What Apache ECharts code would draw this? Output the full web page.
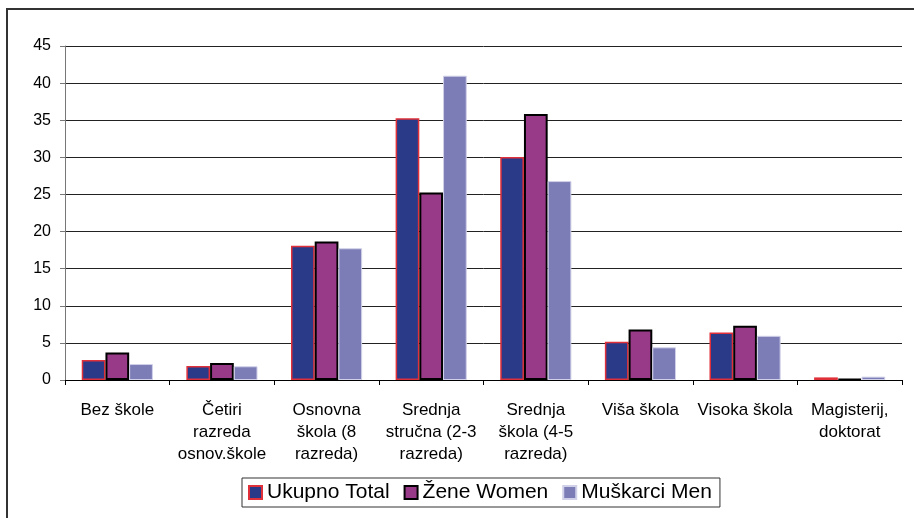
<!DOCTYPE html>
<html>
<head>
<meta charset="utf-8">
<script src="https://cdn.jsdelivr.net/npm/echarts@6/dist/echarts.min.js"></script>
<style>
  html, body { margin: 0; padding: 0; background: #fff; }
  #chart { width: 914px; height: 518px; }
</style>
</head>
<body>
<div id="chart"></div>
<script>
// Education level categories
const categories = [
  'Bez škole',
  'Četiri\nrazreda\nosnov.škole',
  'Osnovna\nškola (8\nrazreda)',
  'Srednja\nstručna (2-3\nrazreda)',
  'Srednja\nškola (4-5\nrazreda)',
  'Viša škola',
  'Visoka škola',
  'Magisterij,\ndoktorat'
];

// Shares (%) per education level
const totalValues = [2.7, 1.9, 18.1, 35.25, 30.05, 5.15, 6.4, 0.35];
const womenValues = [3.7, 2.3, 18.65, 25.25, 35.85, 6.8, 7.3, 0.12];
const menValues   = [2.15, 1.85, 17.75, 41.0, 26.8, 4.4, 5.95, 0.45];

const seriesNames = ['Ukupno Total', 'Žene Women', 'Muškarci Men'];

const chart = echarts.init(document.getElementById('chart'), null, { renderer: 'canvas' });

const font = '"Liberation Sans", Arial, sans-serif';

chart.setOption({
  animation: false,
  backgroundColor: '#fff',
  textStyle: { fontFamily: font },
  graphic: [{
    type: 'rect',
    shape: { x: 7, y: 9, width: 930, height: 530 },
    style: { fill: 'none', stroke: '#333', lineWidth: 2 },
    silent: true
  }],
  grid: { left: 65, right: 12, top: 46, bottom: 138, containLabel: false },
  legend: {
    data: seriesNames,
    icon: 'rect',
    left: 242,
    top: 478,
    itemWidth: 13,
    itemHeight: 13,
    itemGap: 14,
    padding: [4, 8, 4, 6],
    borderColor: '#333',
    borderWidth: 1,
    textStyle: { fontSize: 21, color: '#000', fontFamily: font, padding: [0, 0, 0, 0] }
  },
  xAxis: {
    type: 'category',
    data: categories,
    axisLine: { lineStyle: { color: '#000', width: 1 } },
    axisTick: { show: true, length: 5, lineStyle: { color: '#000' } },
    axisLabel: {
      interval: 0,
      margin: 19,
      fontSize: 17,
      lineHeight: 22,
      color: '#000',
      fontFamily: font
    }
  },
  yAxis: {
    type: 'value',
    min: 0,
    max: 45,
    interval: 5,
    axisLine: { show: true, lineStyle: { color: '#777', width: 1 } },
    axisTick: { show: true, length: 5, lineStyle: { color: '#777' } },
    axisLabel: { fontSize: 16, color: '#000', margin: 14, fontFamily: font },
    splitLine: { lineStyle: { color: '#222', width: 1 } }
  },
  series: [
    {
      name: seriesNames[0],
      type: 'bar',
      data: totalValues,
      barGap: '0%',
      barCategoryGap: '32%',
      itemStyle: { color: '#2A3A88', borderColor: '#E0303A', borderWidth: 1.5 }
    },
    {
      name: seriesNames[1],
      type: 'bar',
      data: womenValues,
      itemStyle: { color: '#993A88', borderColor: '#000', borderWidth: 2 }
    },
    {
      name: seriesNames[2],
      type: 'bar',
      data: menValues,
      itemStyle: { color: '#7C7CB6', borderColor: '#D0D0E8', borderWidth: 1 }
    }
  ]
});
</script>
</body>
</html>
